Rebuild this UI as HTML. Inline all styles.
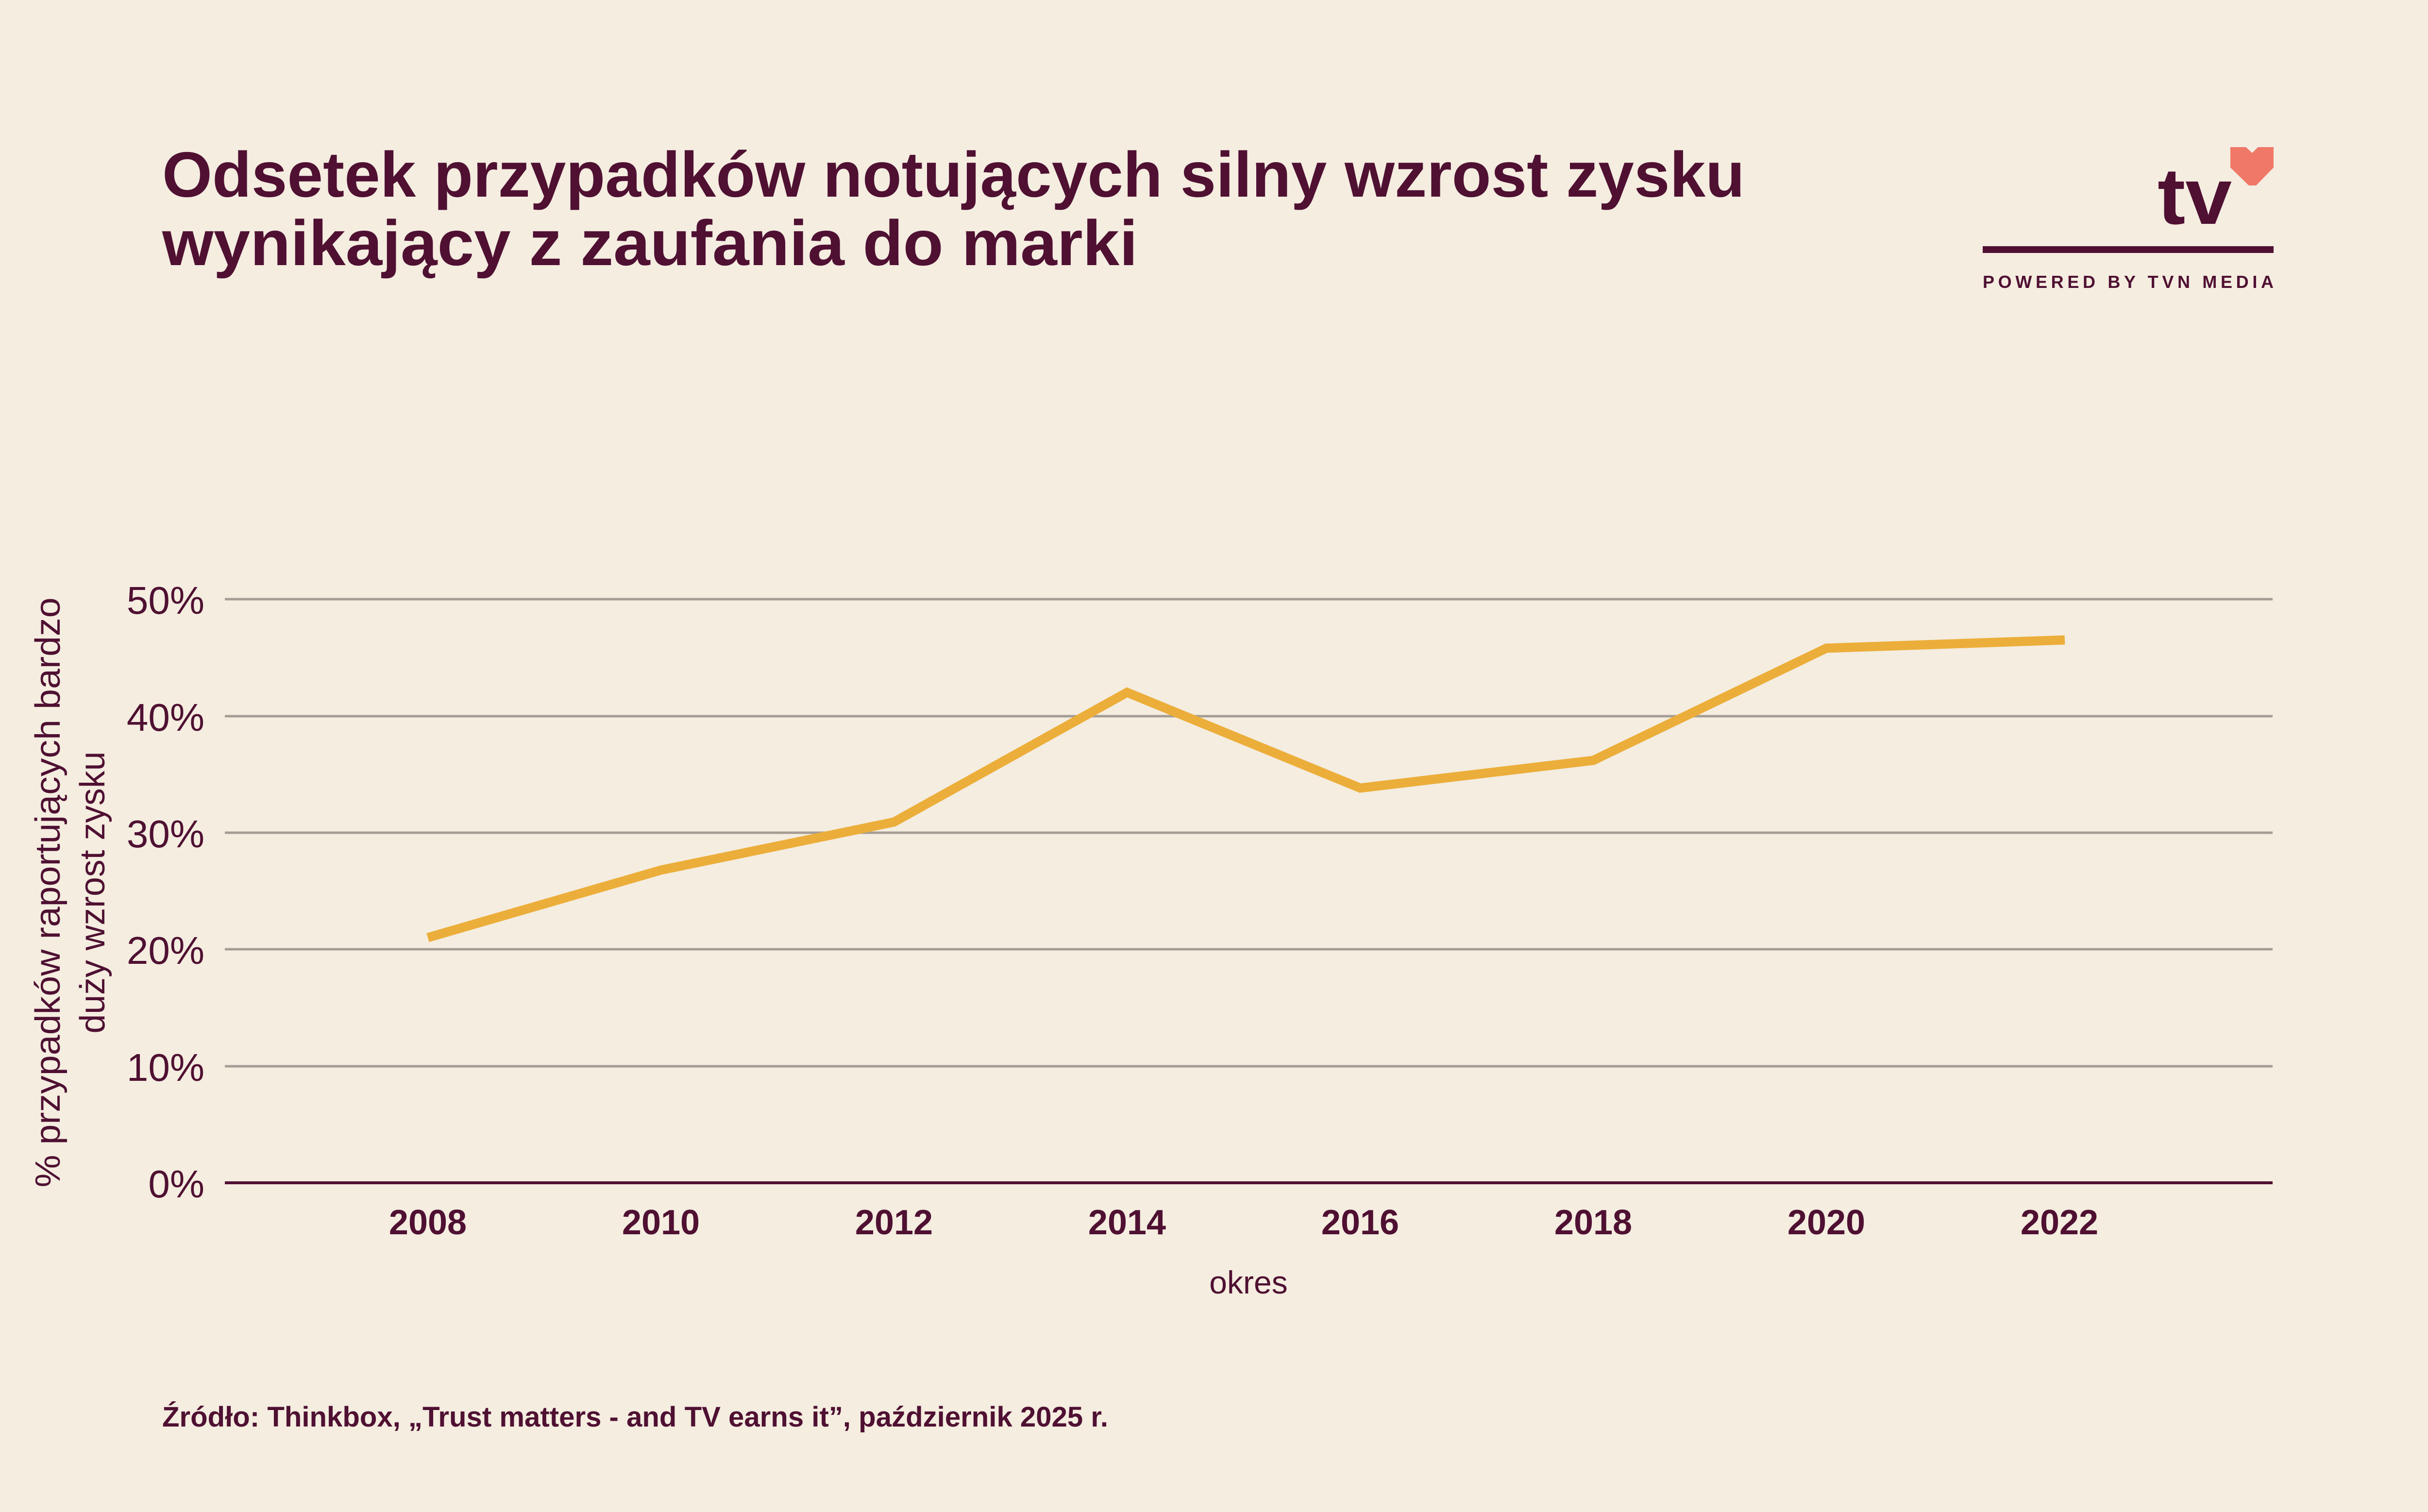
<!DOCTYPE html>
<html><head><meta charset="utf-8"><style>
html,body{margin:0;padding:0;background:#f4ede0;}
svg{display:block;}
</style></head><body>
<svg width="5040" height="3114" viewBox="0 0 5040 3114" xmlns="http://www.w3.org/2000/svg" font-family="'Liberation Sans', sans-serif">
<rect width="5040" height="3114" fill="#f4ede0"/>
<g fill="#4f1032" font-weight="bold" font-size="132">
<text x="334" y="405" textLength="3259" lengthAdjust="spacingAndGlyphs">Odsetek przypadków notujących silny wzrost zysku</text>
<text x="334" y="546" textLength="2009" lengthAdjust="spacingAndGlyphs">wynikający z zaufania do marki</text>
</g>
<!-- logo -->
<text x="4443" y="461" font-size="165" font-weight="bold" fill="#4f1032" textLength="153" lengthAdjust="spacingAndGlyphs">tv</text>
<polygon fill="#f07868" points="4593,303 4625,303 4638,315 4650,303 4682,303 4682,345 4646,382 4631,382 4593,345"/>
<rect x="4083" y="507" width="599" height="14" fill="#4f1032"/>
<text x="4083" y="593" font-size="36" font-weight="bold" fill="#4f1032" textLength="599" lengthAdjust="spacing">POWERED BY TVN MEDIA</text>
<!-- grid -->
<g stroke="#a59d94" stroke-width="5">
<line x1="463" y1="1234" x2="4680" y2="1234"/>
<line x1="463" y1="1475" x2="4680" y2="1475"/>
<line x1="463" y1="1715" x2="4680" y2="1715"/>
<line x1="463" y1="1955" x2="4680" y2="1955"/>
<line x1="463" y1="2196" x2="4680" y2="2196"/>
</g>
<line x1="463" y1="2436" x2="4680" y2="2436" stroke="#4f1032" stroke-width="6"/>
<g fill="#4f1032" font-size="80" text-anchor="end">
<text x="421" y="1264">50%</text>
<text x="421" y="1505">40%</text>
<text x="421" y="1745">30%</text>
<text x="421" y="1985">20%</text>
<text x="421" y="2226">10%</text>
<text x="421" y="2466">0%</text>
</g>
<g fill="#4f1032" font-size="72" text-anchor="middle">
<text transform="translate(123,1838) rotate(-90)" textLength="1215" lengthAdjust="spacingAndGlyphs">% przypadków raportujących bardzo</text>
<text transform="translate(215,1838) rotate(-90)" textLength="581" lengthAdjust="spacingAndGlyphs">duży wzrost zysku</text>
</g>
<polyline fill="none" stroke="#ecae3a" stroke-width="19" stroke-linejoin="miter" points="881,1931 1361,1792 1841,1693 2321,1426 2801,1623 3281,1566 3761,1335 4252,1318"/>
<g fill="#4f1032" font-size="72" font-weight="bold" text-anchor="middle">
<text x="881" y="2542">2008</text>
<text x="1361" y="2542">2010</text>
<text x="1841" y="2542">2012</text>
<text x="2321" y="2542">2014</text>
<text x="2801" y="2542">2016</text>
<text x="3281" y="2542">2018</text>
<text x="3761" y="2542">2020</text>
<text x="4241" y="2542">2022</text>
</g>
<text x="2571" y="2664" font-size="66" fill="#4f1032" text-anchor="middle">okres</text>
<text x="334" y="2938" font-size="58" font-weight="bold" fill="#4f1032" textLength="1948" lengthAdjust="spacingAndGlyphs">Źródło: Thinkbox, „Trust matters - and TV earns it”, październik 2025 r.</text>
</svg>
</body></html>
